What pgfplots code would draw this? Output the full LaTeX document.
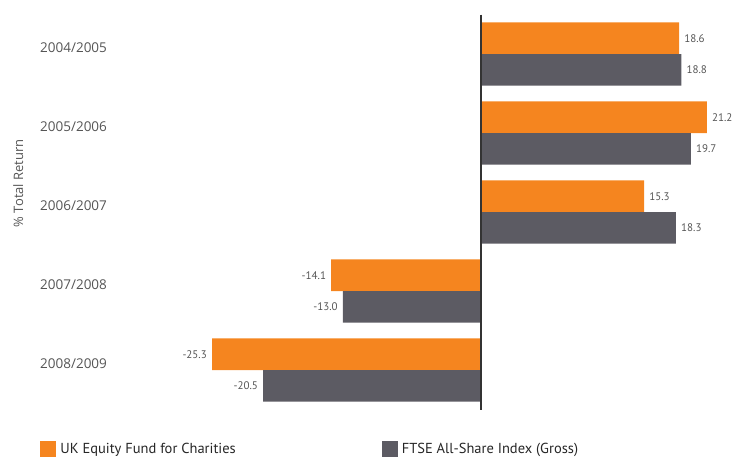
\documentclass[border=0pt]{standalone}
\usepackage{pgfplots}
\pgfplotsset{compat=1.18}
\usepackage{fontspec}
\setmainfont{Open Sans}
\newfontfamily\legfont{PT Sans}
\definecolor{fundorange}{HTML}{F5851F}
\definecolor{ftsegrey}{HTML}{5C5B63}
\definecolor{txtgrey}{HTML}{555555}
\begin{document}
\begin{tikzpicture}[x=1pt,y=1pt]
\path[use as bounding box] (0,0) rectangle (736,458);
\begin{axis}[
  at={(162pt,48.5pt)}, anchor=south west,
  scale only axis, width=564pt, height=395pt,
  xmin=-30, xmax=23,
  ymin=-0.5, ymax=4.5, y dir=reverse,
  xbar, bar width=0.4,
  axis line style={draw=none},
  major tick length=0pt,
  xtick=\empty,
  ytick={0,1,2,3,4},
  yticklabels={2004/2005,2005/2006,2006/2007,2007/2008,2008/2009},
  yticklabel style={anchor=west, inner sep=0pt, xshift=-122pt, yshift=6pt, font=\fontsize{13.5}{15}\selectfont, text=txtgrey},
  ylabel={\% Total Return},
  ylabel style={at={(axis description cs:-0.255,0.573)}, anchor=center, font=\fontsize{13}{15}\selectfont, text=txtgrey},
  nodes near coords,
  nodes near coords style={font=\legfont\fontsize{11}{12}\selectfont, text=txtgrey, /pgf/number format/fixed, /pgf/number format/fixed zerofill, /pgf/number format/precision=1, /pgf/number format/assume math mode=true, inner sep=5pt},
  legend columns=2,
  legend style={at={(axis description cs:-0.216,-0.1)}, anchor=west, draw=none, fill=none, font=\legfont\fontsize{14.5}{16}\selectfont, text=black!85, inner sep=0pt,
    /tikz/every even column/.append style={column sep=142pt},
    nodes={inner xsep=4pt}},
  legend image code/.code={\fill[#1] (0pt,-8pt) rectangle (16pt,8pt);},
  clip=false,
]
\addplot[fill=fundorange, draw=none, bar shift=-0.2] coordinates {(18.6,0) (21.2,1) (15.3,2) (-14.1,3) (-25.3,4)};
\addplot[fill=ftsegrey, draw=none, bar shift=0.2] coordinates {(18.8,0) (19.7,1) (18.3,2) (-13.0,3) (-20.5,4)};
\legend{UK Equity Fund for Charities, FTSE All-Share Index (Gross)}
\draw[black!80, line width=1.6pt] (axis cs:0,-0.5) -- (axis cs:0,4.5);
\end{axis}
\end{tikzpicture}
\end{document}
